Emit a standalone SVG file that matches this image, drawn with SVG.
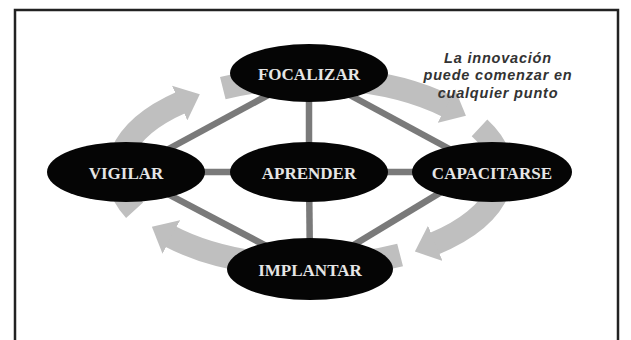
<svg xmlns="http://www.w3.org/2000/svg" width="631" height="340" viewBox="0 0 631 340">
  <defs>
    <marker id="ah" markerUnits="userSpaceOnUse" markerWidth="22" markerHeight="38" viewBox="0 0 22 38" refX="2" refY="19" orient="auto">
      <path d="M0,0 L22,19 L0,38 z" fill="#bfbfbf"/>
    </marker>
  </defs>
  <style>
    .frame { fill: none; stroke: #222; stroke-width: 2.5; }
    .cyc { fill: none; stroke: #bfbfbf; stroke-width: 23; marker-end: url(#ah); }
    .conn { stroke: #7a7a7a; stroke-width: 6.5; fill: none; }
    .node ellipse { fill: #050505; }
    .node text { font-family: "Liberation Serif", "Times New Roman", serif; font-weight: bold; font-size: 17px; fill: #e6e6e6; text-anchor: middle; }
    .note { font-family: "Liberation Sans", Arial, sans-serif; font-style: italic; font-weight: bold; font-size: 14.5px; letter-spacing: 0.8px; fill: #333; text-anchor: middle; }
  </style>
  <rect width="631" height="340" fill="#fff"/>
  <path class="frame" d="M15,340 V10 H618 V340"/>

  <g id="cycle-arrows">
    <path class="cyc" d="M134.6,210.2 A192,94 0 0 1 181.5,102.2"/>
    <path class="cyc" d="M222.8,88.2 A192,94 0 0 1 448.1,106.7"/>
    <path class="cyc" d="M479.5,127.9 A192,94 0 0 1 433.4,244.0"/>
    <path class="cyc" d="M400.1,255.0 A192,94 0 0 1 169.6,236.1"/>
  </g>

  <g id="connectors">
    <line class="conn" x1="309" y1="73" x2="309" y2="172"/>
    <line class="conn" x1="309" y1="172" x2="310" y2="269"/>
    <line class="conn" x1="126" y1="172" x2="309" y2="172"/>
    <line class="conn" x1="309" y1="172" x2="492" y2="172"/>
    <line class="conn" x1="309" y1="73" x2="126" y2="172"/>
    <line class="conn" x1="309" y1="73" x2="492" y2="172"/>
    <line class="conn" x1="126" y1="172" x2="310" y2="269"/>
    <line class="conn" x1="470" y1="174.6" x2="330" y2="259.3"/>
  </g>

  <g id="focalizar" class="node">
    <ellipse cx="309" cy="73" rx="79" ry="29"/>
    <text x="309" y="80">FOCALIZAR</text>
  </g>
  <g id="vigilar" class="node">
    <ellipse cx="126" cy="172" rx="79" ry="30"/>
    <text x="126" y="179">VIGILAR</text>
  </g>
  <g id="aprender" class="node">
    <ellipse cx="309" cy="172" rx="79" ry="30"/>
    <text x="309" y="179">APRENDER</text>
  </g>
  <g id="capacitarse" class="node">
    <ellipse cx="492" cy="172" rx="80" ry="30"/>
    <text x="492" y="179">CAPACITARSE</text>
  </g>
  <g id="implantar" class="node">
    <ellipse cx="310" cy="269" rx="83" ry="31"/>
    <text x="310" y="276">IMPLANTAR</text>
  </g>

  <g id="note">
    <text class="note" x="498" y="62.5">La innovación</text>
    <text class="note" x="498" y="80">puede comenzar en</text>
    <text class="note" x="498" y="97.5">cualquier punto</text>
  </g>
</svg>
